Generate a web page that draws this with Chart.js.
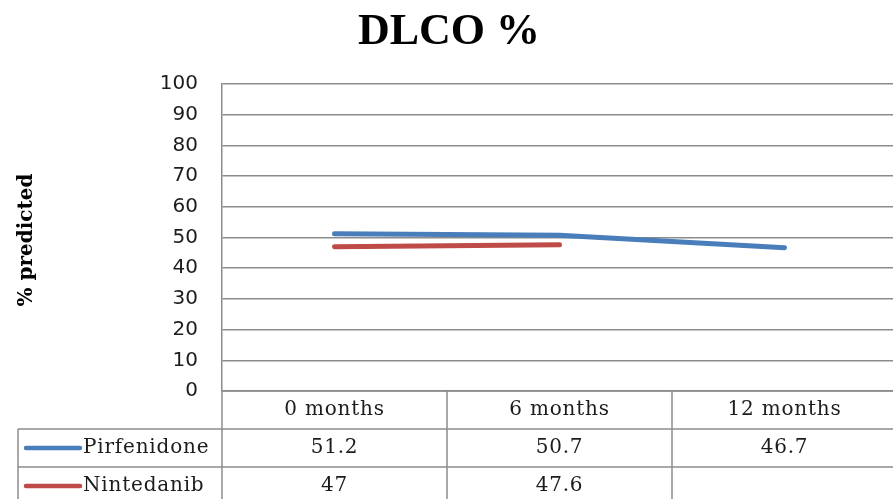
<!DOCTYPE html>
<html>
<head>
<meta charset="utf-8">
<script src="https://cdn.jsdelivr.net/npm/chart.js@4/dist/chart.umd.min.js"></script>
<style>
  html, body { margin: 0; padding: 0; overflow: hidden; background: #fff; }
  #wrap { width: 905px; height: 499px; }
</style>
</head>
<body>
<div id="wrap"><canvas id="c" width="905" height="499"></canvas></div>
<script>
// DLCO % predicted by treatment, with a data table under the axis
const chartTitle = 'DLCO %';
const yAxisTitle = '% predicted';
const timepoints = ['0 months', '6 months', '12 months'];
const seriesNames = ['Pirfenidone', 'Nintedanib'];
const pirfenidone = [51.2, 50.7, 46.7];
const nintedanib = [47, 47.6, null];
const yTickValues = [0, 10, 20, 30, 40, 50, 60, 70, 80, 90, 100];

const seriesColors = ['#4a7ebb', '#be4b48'];
const gridColor = '#8c8c8c';
const textColor = '#1c1c1c';

// Draws the heading, the rotated axis title and the data table
const decorations = {
  id: 'decorations',
  afterDraw(chart) {
    const ctx = chart.ctx;
    const ca = chart.chartArea;
    const xs = chart.scales.x;
    const n = timepoints.length;
    const colW = (ca.right - ca.left) / n;
    const rowH = 38;
    const top = ca.bottom;
    const tableLeft = 18;
    const bottom = top + rowH * 3;

    ctx.save();
    // heading
    ctx.fillStyle = '#000';
    ctx.font = 'bold 44px "Liberation Serif"';
    ctx.textAlign = 'center';
    ctx.textBaseline = 'middle';
    ctx.fillText(chartTitle, 449, 33);

    // axis title
    ctx.save();
    ctx.translate(27, 240);
    ctx.rotate(-Math.PI / 2);
    ctx.font = 'bold 20px "DejaVu Serif"';
    ctx.fillText(yAxisTitle, 0, 0);
    ctx.restore();

    // table grid
    ctx.strokeStyle = gridColor;
    ctx.lineWidth = 1.5;
    ctx.beginPath();
    ctx.moveTo(ca.left, top); ctx.lineTo(ca.right, top);
    for (let r = 1; r <= 3; r++) {
      ctx.moveTo(tableLeft, top + rowH * r); ctx.lineTo(ca.right, top + rowH * r);
    }
    ctx.moveTo(tableLeft, top + rowH); ctx.lineTo(tableLeft, bottom);
    for (let i = 0; i < n; i++) {
      const cx = xs.getPixelForValue(i) - colW / 2;
      ctx.moveTo(cx, top); ctx.lineTo(cx, bottom);
    }
    const lastEdge = xs.getPixelForValue(n - 1) + colW / 2;
    ctx.moveTo(lastEdge, top); ctx.lineTo(lastEdge, bottom);
    ctx.stroke();

    // header row
    ctx.fillStyle = textColor;
    ctx.font = '20px "DejaVu Serif"';
    ctx.letterSpacing = '0.8px';
    ctx.textAlign = 'center';
    timepoints.forEach((t, i) => {
      ctx.fillText(t, xs.getPixelForValue(i), top + rowH / 2);
    });

    // series rows with legend keys
    chart.data.datasets.forEach((ds, r) => {
      const cy = top + rowH * (r + 1) + rowH / 2;
      ctx.strokeStyle = ds.borderColor;
      ctx.lineWidth = 4.5;
      ctx.lineCap = 'round';
      ctx.beginPath();
      ctx.moveTo(26, cy); ctx.lineTo(80, cy);
      ctx.stroke();
      ctx.fillStyle = textColor;
      ctx.textAlign = 'left';
      ctx.fillText(ds.label, 83, cy);
      ctx.textAlign = 'center';
      ds.data.forEach((v, i) => {
        if (v !== null && v !== undefined) {
          ctx.fillText(String(v), xs.getPixelForValue(i), cy);
        }
      });
    });
    ctx.restore();
  }
};

new Chart(document.getElementById('c'), {
  type: 'line',
  data: {
    labels: timepoints,
    datasets: [
      { label: seriesNames[0], data: pirfenidone, borderColor: seriesColors[0] },
      { label: seriesNames[1], data: nintedanib, borderColor: seriesColors[1] }
    ]
  },
  options: {
    responsive: false,
    animation: false,
    devicePixelRatio: 1,
    layout: { padding: { left: 0, top: 84, right: 8, bottom: 108 } },
    elements: {
      line: { borderWidth: 5, tension: 0, borderCapStyle: 'round', borderJoinStyle: 'round' },
      point: { radius: 0, hoverRadius: 0 }
    },
    plugins: {
      legend: { display: false },
      title: { display: false },
      tooltip: { enabled: false }
    },
    scales: {
      x: { type: 'category', display: false, offset: true },
      y: {
        min: 0,
        max: 100,
        afterFit(scale) { scale.width = 222; },
        afterBuildTicks(scale) { scale.ticks = yTickValues.map(v => ({ value: v })); },
        grid: { color: gridColor, lineWidth: 1.5, drawTicks: false },
        border: { display: true, color: gridColor, width: 1.5 },
        ticks: {
          padding: 24,
          color: textColor,
          font: { family: '"DejaVu Sans"', size: 20 }
        }
      }
    }
  },
  plugins: [decorations]
});
</script>
</body>
</html>
